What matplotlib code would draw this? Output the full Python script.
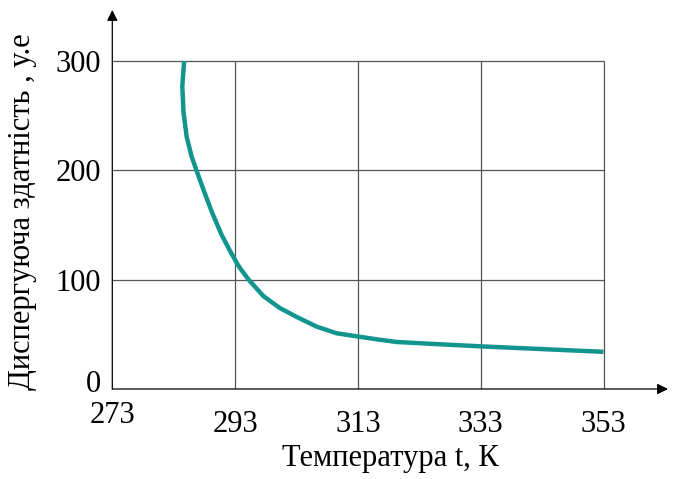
import numpy as np
import matplotlib.pyplot as plt
from matplotlib.transforms import ScaledTranslation

# curve: temperature (K) vs dispersing ability (u.e.)
temp = [284.7, 284.4, 284.6, 285.1, 285.9, 286.7, 287.8, 289.2, 290.8, 292.2,
        293.3, 293.8, 295.2, 297.6, 300.3, 303.0, 306.3, 309.5, 313.0, 316.6,
        319.3, 326.0, 333.0, 343.0, 353.0]
ability = [300, 277, 253, 231, 213, 200, 183, 162, 141, 126,
           115, 110.5, 100, 85, 74, 66, 57, 51, 48, 45,
           43, 41, 39, 36.5, 34]

x_ticks = [293, 313, 333, 353]
y_ticks = [0, 100, 200, 300]
x_origin = 273

plt.rcParams['font.family'] = ['Liberation Serif', 'DejaVu Serif']


def main():
    fig = plt.figure(figsize=(6.77, 4.79), dpi=100)
    ax = fig.add_axes([112.3 / 677, 90 / 479, 555.7 / 677, 379 / 479])
    ax.set_xlim(x_origin, 363.5)
    ax.set_ylim(0, 346.6)

    # grid box only up to the last tick
    ax.vlines(x_ticks, 0, y_ticks[-1], color='#555555', lw=0.9, zorder=1)
    ax.hlines(y_ticks[1:], x_origin, x_ticks[-1], color='#555555', lw=0.9, zorder=1)

    ax.plot(temp, ability, color='#13958f', lw=3.2, solid_capstyle='butt',
            solid_joinstyle='round', zorder=3)

    # axes with arrows
    for s in ax.spines.values():
        s.set_visible(False)
    ax.annotate('', xy=(1, 0), xytext=(0, 0), xycoords='axes fraction',
                arrowprops=dict(arrowstyle='-|>', color='black', lw=0.9,
                                mutation_scale=16, shrinkA=0, shrinkB=0))
    ax.annotate('', xy=(0, 1), xytext=(0, 0), xycoords='axes fraction',
                arrowprops=dict(arrowstyle='-|>', color='black', lw=0.9,
                                mutation_scale=16, shrinkA=0, shrinkB=0))

    ax.set_xticks(x_ticks)
    ax.set_yticks(y_ticks)
    ax.tick_params(length=0, labelsize=22)
    ax.tick_params(axis='x', pad=15)
    ax.tick_params(axis='y', pad=8)
    ax.text(x_origin, -11, str(x_origin), ha='center', va='top', fontsize=22)

    # raise the "0" label a little, as in the source figure
    zero = ax.get_yticklabels()[0]
    zero.set_transform(zero.get_transform() + ScaledTranslation(0, 6 / 72, fig.dpi_scale_trans))

    ax.set_xlabel('Температура t, К', fontsize=22, labelpad=4)
    ax.set_ylabel('Диспергуюча здатність , у.е', fontsize=22)
    ax.yaxis.set_label_coords(-0.136, 0.467)

    fig.savefig('out.png', dpi=100)


if __name__ == '__main__':
    main()
